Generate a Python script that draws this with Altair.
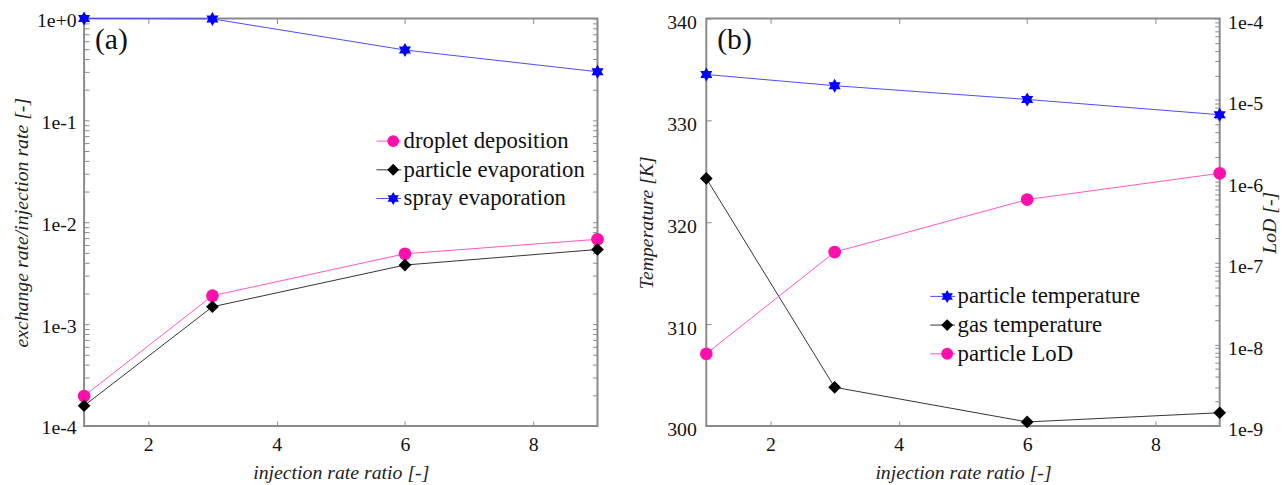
import altair as alt
import pandas as pd

# ---------------- data ----------------
x_vals = [1, 3, 6, 9]

series_a = ["droplet deposition", "particle evaporation", "spray evaporation"]
droplet_deposition = [1.97e-4, 1.9e-3, 4.9e-3, 6.8e-3]
particle_evaporation = [1.58e-4, 1.48e-3, 3.8e-3, 5.4e-3]
spray_evaporation = [1.0, 0.99, 0.49, 0.30]

series_b = ["particle temperature", "gas temperature", "particle LoD"]
particle_temperature = [334.5, 333.4, 332.05, 330.55]
gas_temperature = [324.3, 303.8, 300.4, 301.3]
particle_lod = [7.7e-9, 1.36e-7, 6.0e-7, 1.26e-6]

x_ticks = [2, 4, 6, 8]
temp_ticks = [300, 310, 320, 330, 340]
log_ticks_a = [m * 10.0 ** e for e in range(-4, 0) for m in range(1, 10)] + [1.0]
log_ticks_b = [m * 10.0 ** e for e in range(-9, -4) for m in range(1, 10)] + [1e-4]

# ---------------- style ----------------
SERIF = "Liberation Serif"
FRAME = "#8a8a8a"
TICK = 5
W, H = 519, 412

line_colors_a = ["#ff55c4", "#333333", "#4a4aff"]
marker_colors_a = ["#ff10ac", "#000000", "#0000ff"]
line_colors_b = ["#4a4aff", "#333333", "#ff55c4"]
marker_colors_b = ["#0000ff", "#000000", "#ff10ac"]
HEX = "M0,-1.1L0.953,0.55L-0.953,0.55Z M0,1.1L-0.953,-0.55L0.953,-0.55Z"
shapes_a = ["circle", "diamond", HEX]
shapes_b = [HEX, "diamond", "circle"]

LOGEXPR = ("abs(log(datum.value)/LN10 - round(log(datum.value)/LN10)) < 1e-6 "
           "? format(datum.value, '.0e') : ''")


def axis(orient, values, labels=True, title=None, label_expr=None, title_angle=None,
         title_padding=None, label_padding=8, title_baseline=None, label_offset=None):
    kw = dict(orient=orient, values=values, domain=False, grid=False, ticks=True,
              tickColor=FRAME, tickSize=TICK, tickWidth=1, offset=-TICK,
              labels=labels, labelFont=SERIF, labelFontSize=20, labelColor="#111111",
              labelPadding=label_padding, labelOverlap=False, title=title)
    if label_expr:
        kw["labelExpr"] = label_expr
    if label_offset is not None:
        kw["labelOffset"] = label_offset
    if title:
        kw.update(titleFont=SERIF, titleFontSize=20, titleFontStyle="italic",
                  titleFontWeight="normal", titleColor="#222222")
    if title_angle is not None:
        kw["titleAngle"] = title_angle
    if title_padding is not None:
        kw["titlePadding"] = title_padding
    if title_baseline is not None:
        kw["titleBaseline"] = title_baseline
    return alt.Axis(**kw)


def line_legend(x, y):
    return alt.Legend(orient="none", legendX=x, legendY=y, title=None,
                      symbolType="M-1,0L1,0", symbolSize=625, symbolStrokeWidth=1,
                      labelFont=SERIF, labelFontSize=23, labelColor="#111111",
                      labelLimit=400, labelOffset=2, clipHeight=26, rowPadding=3,
                      padding=0)


def marker_legend(x, y):
    return alt.Legend(orient="none", legendX=x, legendY=y, title=None,
                      symbolSize=144, symbolStrokeWidth=0, labelExpr="''",
                      labelFont=SERIF, labelFontSize=23,
                      labelOffset=2, clipHeight=26, rowPadding=3, padding=0)


# legend-only label variants (trailing space keeps line legend separate from marker legend)
series_a_l = [s + " " for s in series_a]
series_b_l = [s + " " for s in series_b]

# ---------------- panel (a) ----------------
df_a = pd.DataFrame({
    "x": x_vals * 3,
    "value": droplet_deposition + particle_evaporation + spray_evaporation,
    "series": [s for s in series_a for _ in x_vals],
})
df_a["series_l"] = df_a["series"] + " "
label_a = pd.DataFrame({"x": [1.17], "value": [0.62], "t": ["(a)"]})

xs_a = alt.Scale(domain=[1, 9], nice=False, zero=False)
ys_a = alt.Scale(type="log", domain=[1e-4, 1], nice=False)
X_a = alt.X("x:Q", scale=xs_a, axis=axis("bottom", x_ticks, title="injection rate ratio [-]",
                                            title_padding=8, label_padding=9))
Y_a = alt.Y("value:Q", scale=ys_a,
            axis=axis("left", log_ticks_a, title="exchange rate/injection rate [-]",
                      label_expr=LOGEXPR, title_padding=5, label_offset=2))

leg_la = line_legend(295, 111)
leg_ma = marker_legend(301, 111)
line_a = alt.Chart(df_a).mark_line(strokeWidth=1).encode(
    x=X_a, y=Y_a,
    stroke=alt.Stroke("series_l:N", scale=alt.Scale(domain=series_a_l, range=line_colors_a),
                      legend=leg_la))
pts_a = alt.Chart(df_a).mark_point(filled=True, size=165, opacity=1, strokeWidth=0).encode(
    x=X_a, y=Y_a,
    fill=alt.Fill("series:N", scale=alt.Scale(domain=series_a, range=marker_colors_a),
                  legend=leg_ma),
    shape=alt.Shape("series:N", scale=alt.Scale(domain=series_a, range=shapes_a),
                    legend=leg_ma))
txt_a = alt.Chart(label_a).mark_text(align="left", baseline="middle", font=SERIF,
                                     fontSize=30, color="#111111").encode(
    x=X_a, y=Y_a, text="t:N")
mirror_a = alt.Chart(df_a).mark_point(opacity=0).encode(
    x=alt.X("x:Q", scale=xs_a, axis=axis("top", x_ticks, labels=False)),
    y=alt.Y("value:Q", scale=ys_a, axis=axis("right", log_ticks_a, labels=False)))

panel_a = alt.layer(alt.layer(line_a, pts_a, txt_a), mirror_a).resolve_axis(
    x="independent", y="independent").properties(width=W, height=H)

# ---------------- panel (b) ----------------
df_t = pd.DataFrame({
    "x": x_vals * 2,
    "value": particle_temperature + gas_temperature,
    "series": [s for s in series_b[:2] for _ in x_vals],
})
df_t["series_l"] = df_t["series"] + " "
df_l = pd.DataFrame({"x": x_vals, "lod": particle_lod, "series": [series_b[2]] * 4})
df_l["series_l"] = df_l["series"] + " "
label_b = pd.DataFrame({"x": [1.17], "value": [337.9], "t": ["(b)"]})

xs_b = alt.Scale(domain=[1, 9], nice=False, zero=False)
X_b = alt.X("x:Q", scale=xs_b, axis=axis("bottom", x_ticks, title="injection rate ratio [-]",
                                            title_padding=8, label_padding=9))
Y_t = alt.Y("value:Q", scale=alt.Scale(domain=[300, 340], nice=False, zero=False),
            axis=axis("left", temp_ticks, title="Temperature [K]", title_padding=10,
                      label_padding=10, label_offset=4))
X_bt = alt.X("x:Q", scale=xs_b, axis=axis("top", x_ticks, labels=False))
Y_l = alt.Y("lod:Q", scale=alt.Scale(type="log", domain=[1e-9, 1e-4], nice=False),
            axis=axis("right", log_ticks_b, title="LoD [-]", label_expr=LOGEXPR,
                      title_angle=270, title_padding=-3, title_baseline="top",
                      label_offset=4))

stroke_b = alt.Scale(domain=series_b_l, range=line_colors_b)
fill_b = alt.Scale(domain=series_b, range=marker_colors_b)
shape_b = alt.Scale(domain=series_b, range=shapes_b)
leg_lb = line_legend(226, 268)
leg_mb = marker_legend(232, 268)


def layer_pair(df, X, Y):
    ln = alt.Chart(df).mark_line(strokeWidth=1).encode(
        x=X, y=Y, stroke=alt.Stroke("series_l:N", scale=stroke_b, legend=leg_lb))
    pt = alt.Chart(df).mark_point(filled=True, size=165, opacity=1, strokeWidth=0).encode(
        x=X, y=Y,
        fill=alt.Fill("series:N", scale=fill_b, legend=leg_mb),
        shape=alt.Shape("series:N", scale=shape_b, legend=leg_mb))
    return ln, pt


ln_t, pt_t = layer_pair(df_t, X_b, Y_t)
txt_b = alt.Chart(label_b).mark_text(align="left", baseline="middle", font=SERIF,
                                     fontSize=30, color="#111111").encode(
    x=X_b, y=Y_t, text="t:N")
ln_l, pt_l = layer_pair(df_l, X_bt, Y_l)

panel_b = alt.layer(alt.layer(ln_t, pt_t, txt_b), alt.layer(ln_l, pt_l)).resolve_scale(
    y="independent").resolve_axis(x="independent", y="independent").properties(
    width=W, height=H)

chart = alt.hconcat(panel_a, panel_b, spacing=31).resolve_scale(
    stroke="independent", fill="independent", shape="independent").resolve_legend(
    stroke="independent", fill="independent", shape="independent").properties(
    padding={"left": 10, "top": 7, "right": 2, "bottom": 0},
    background="white").configure_view(stroke=FRAME, strokeWidth=2)

chart.save("out.html", embed_options={"renderer": "svg", "actions": False})
